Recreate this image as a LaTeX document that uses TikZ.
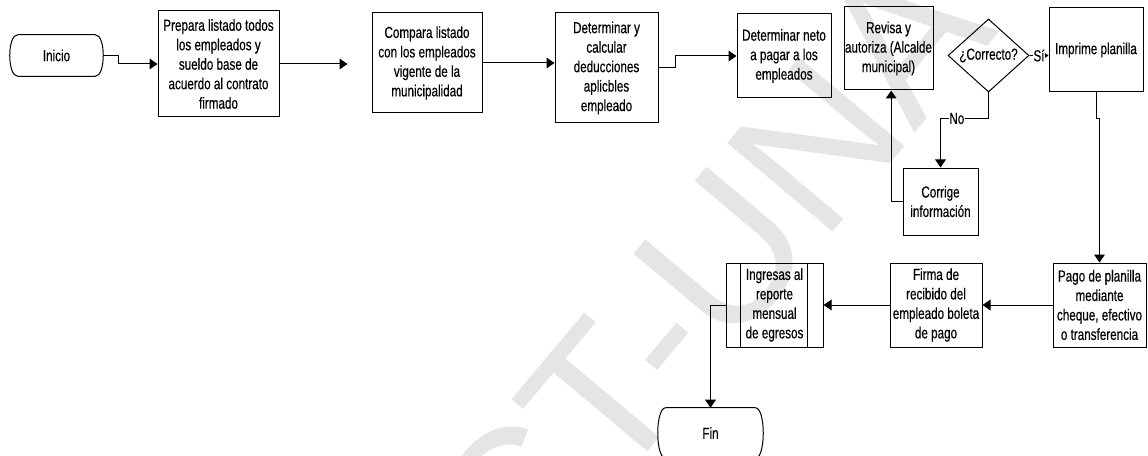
\documentclass[tikz,border=0pt]{standalone}
\usepackage{fontspec}
\setmainfont{Liberation Sans}[FakeStretch=0.73,FakeBold=0.3]
\newfontfamily\wmfont{Liberation Sans}
\usetikzlibrary{arrows.meta,shapes.geometric}
\definecolor{wmgray}{RGB}{229,229,229}
\newcommand\flowfont{\fontsize{12}{14.6}\selectfont}
% outline of a terminator node: straight top and bottom, bulging ends
\newcommand\terminator[1]{%
  \draw[line] ([xshift=6pt]#1.north west) -- ([xshift=-6pt]#1.north east)
    .. controls ([xshift=2pt]#1.north east) and ([xshift=2pt]#1.south east) .. ([xshift=-6pt]#1.south east)
    -- ([xshift=6pt]#1.south west)
    .. controls ([xshift=-2pt]#1.south west) and ([xshift=-2pt]#1.north west) .. cycle;}
\begin{document}
\begin{tikzpicture}[x=0.75pt,y=-0.75pt,
  line/.style={draw=black,line width=0.75pt},
  arr/.style={line,-{Triangle[length=6pt,width=8pt]}},
  box/.style={line,inner sep=0pt,align=center,font=\flowfont},
  term/.style={inner sep=0pt,align=center,font=\flowfont},
  lab/.style={fill=white,inner sep=0.6pt,font=\flowfont},
  wm/.style={font=\wmfont\fontsize{150}{150}\selectfont,text=wmgray,inner sep=0pt},
]
\useasboundingbox[fill=white] (0,0) rectangle (1148,456);

% watermark
\node[wm,rotate=50,anchor=base west] (wmark) at (522,602) {CT-UNA};

% top row
\node[term,minimum width=69.75pt,minimum height=30.75pt] (ini) at (56.5,55.5) {Inicio};
\terminator{ini}
\node[box,minimum width=90.75pt,minimum height=79.5pt] (b1) at (218.5,64)
  {Prepara listado todos\\los empleados y\\sueldo base de\\acuerdo al contrato\\firmado};
\node[box,minimum width=82.5pt,minimum height=75pt] (b2) at (427,63)
  {Compara listado\\con los empleados\\vigente de la\\municipalidad};
\node[box,minimum width=77.25pt,minimum height=82.5pt] (b3) at (606.5,68)
  {Determinar y\\calcular\\deducciones\\aplicbles\\empleado};
\node[box,minimum width=70.5pt,minimum height=63pt] (b4) at (784,56)
  {Determinar neto\\a pagar a los\\empleados};
\node[box,minimum width=66.75pt,minimum height=62.25pt] (rev) at (888.5,48.5)
  {Revisa y\\autoriza (Alcalde\\municipal)};
\node[box,shape=diamond,minimum width=60.75pt,minimum height=54.75pt,aspect=1.1] (dia) at (988.5,55.5) {¿Correcto?};
\node[box,minimum width=70.5pt,minimum height=63pt] (imp) at (1096,50) {Imprime planilla};
\node[box,minimum width=56.25pt,minimum height=50.25pt] (cor) at (940.5,201.5) {Corrige\\información};

% bottom row
\node[box,minimum width=69.75pt,minimum height=63pt] (pago) at (1099.5,305)
  {Pago de planilla\\mediante\\cheque, efectivo\\o transferencia};
\node[box,minimum width=69pt,minimum height=63pt] (firma) at (936,305)
  {Firma de\\recibido del\\empleado boleta\\de pago};
\node[box,minimum width=72.75pt,minimum height=63pt] (ing) at (774.5,305)
  {Ingresas al\\reporte\\mensual\\de egresos};
\draw[line] ([xshift=11.25pt]ing.north west) -- ([xshift=11.25pt]ing.south west);
\draw[line] ([xshift=-12pt]ing.north east) -- ([xshift=-12pt]ing.south east);
\node[term,minimum width=78.75pt,minimum height=37.5pt] (fin) at (710.5,433) {Fin};
\terminator{fin}

% connectors
\draw[arr] (ini.east) -- ++(15,0) |- (b1.west);
\draw[arr] (b1.east) -- ([xshift=-18pt]b2.west |- b1.east);
\draw[arr] (b2.east) -- (b2.east -| b3.west);
\draw[arr] (b3.east) -- ++(17,0) |- (b4.west);
\draw[arr] (dia.east) -- node[lab]{Sí} (dia.east -| imp.west);
\draw[arr] (dia.south) -- ++(0,26) -| node[lab,pos=0.33]{No} (cor.north);
\draw[arr] (cor.west) -| ([xshift=2pt]rev.south);
\draw[arr] (imp.south) -- ++(0,26) -| (pago.north);
\draw[arr] (pago.west) -- (firma.east);
\draw[arr] (firma.west) -- (ing.east);
\draw[arr] (ing.west) -| (fin.north);
\end{tikzpicture}
\end{document}
